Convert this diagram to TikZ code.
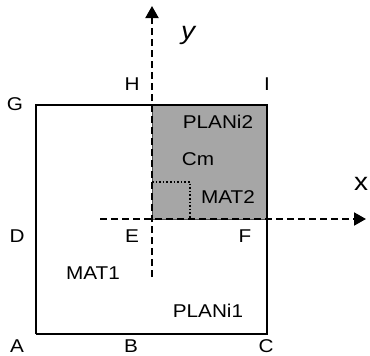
\documentclass[tikz,border=0pt]{standalone}
\usepackage{fontspec}
\setmainfont{Liberation Sans}[FakeStretch=1.12]
\usetikzlibrary{arrows.meta}

\definecolor{platefill}{gray}{0.65}
\tikzset{
	lbl/.style={font=\fontsize{18.5}{21}\selectfont, inner sep=0pt},
	axis/.style={line width=2pt, dash pattern=on 7pt off 4pt, -{Triangle[length=12pt,width=13pt]}},
	edge/.style={line width=2pt}
}

\begin{document}
\begin{tikzpicture}[x=1pt, y=-1pt]
		\useasboundingbox (0,0) rectangle (370,356);
		% corners
		\coordinate (A) at (36,334);
		\coordinate (B) at (152,334);
		\coordinate (C) at (267,334);
		\coordinate (D) at (36,219);
		\coordinate (E) at (152,219);
		\coordinate (F) at (267,219);
		\coordinate (G) at (36,105);
		\coordinate (H) at (152,105);
		\coordinate (I) at (267,105);
		\coordinate (Cm) at (190,182);
		\coordinate (xs) at (100,219);
		\coordinate (xe) at (366,219);
		\coordinate (ys) at (152,277);
		\coordinate (ye) at (152,6);
		% plates
		\filldraw[fill=platefill, draw=black!70, line width=1pt] (E) rectangle (I);
		\draw[edge] (A) -- (C) -- (F);
		\draw[edge] (A) -- (G) -- (H);
		\draw[edge] (H) -- (I) -- (F);
		\draw[line width=1.6pt, dotted] (E |- Cm) -- (Cm) -- (Cm |- E);
		% axes
		\draw[axis] (xs) -- (xe);
		\draw[axis] (ys) -- (ye);
		% labels
		\node[lbl] (lA) at (17,346) {A};
		\node[lbl] (lB) at (131,346) {B};
		\node[lbl] (lC) at (266,346) {C};
		\node[lbl] (lD) at (17,236) {D};
		\node[lbl] (lE) at (132,236) {E};
		\node[lbl] (lF) at (245,236) {F};
		\node[lbl] (lG) at (15,104) {G};
		\node[lbl] (lH) at (132,84) {H};
		\node[lbl] (lI) at (267,84) {I};
		\node[lbl] (lMAT1) at (93,273) {MAT1};
		\node[lbl] (lPLANi1) at (208,311) {PLANi1};
		\node[lbl] (lPLANi2) at (218,122) {PLANi2};
		\node[lbl] (lCm) at (198,159) {Cm};
		\node[lbl] (lMAT2) at (228,197) {MAT2};
		\node[lbl, font=\fontsize{25}{28}\selectfont\itshape] (ly) at (188,35) {y};
		\node[lbl, font=\fontsize{25}{28}\selectfont] (lx) at (361,184) {x};
	\end{tikzpicture}
\end{document}
